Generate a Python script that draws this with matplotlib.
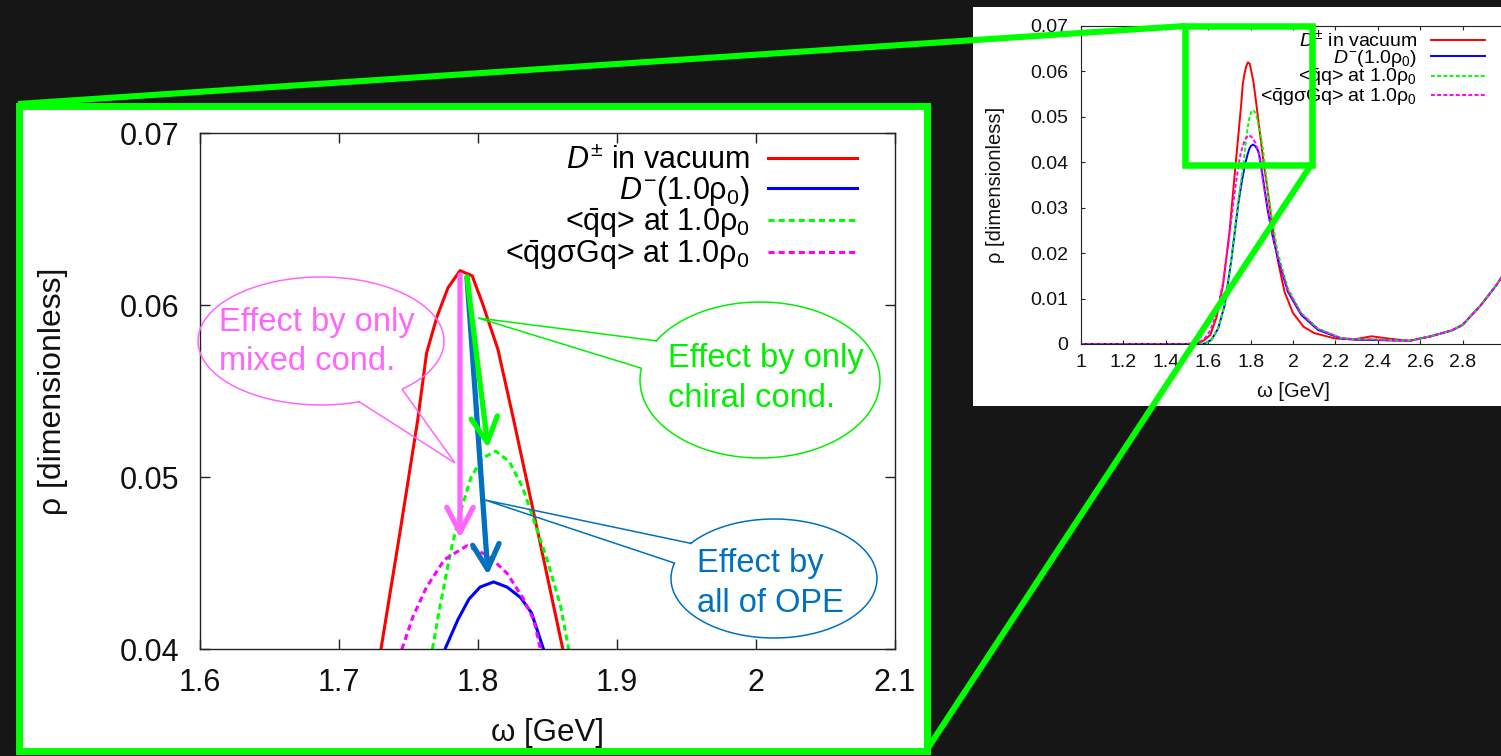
import numpy as np
import matplotlib
matplotlib.use("Agg")
import matplotlib.pyplot as plt
from matplotlib.patches import Rectangle

plt.rcParams['font.family'] = ['Liberation Sans', 'DejaVu Sans']
plt.rcParams['mathtext.fontset'] = 'custom'
plt.rcParams['mathtext.rm'] = 'Liberation Sans'
plt.rcParams['mathtext.it'] = 'Liberation Sans:italic'
plt.rcParams['mathtext.bf'] = 'Liberation Sans:bold'

# ---------------- data ----------------
omega_vac = [1.00, 1.50, 1.55, 1.58, 1.61, 1.64, 1.67, 1.70, 1.7302, 1.7437, 1.7566, 1.7630,
             1.7704, 1.7784, 1.7871, 1.7958, 1.8032, 1.8144, 1.8257, 1.8433, 1.8610, 1.88,
             1.90, 1.93, 1.96, 2.00, 2.05, 2.10, 2.20, 2.30, 2.37, 2.45, 2.55, 2.65, 2.75,
             2.80, 2.887, 2.96, 3.00]
rho_vac = [0.0, 0.0, 0.0002, 0.0008, 0.0020, 0.0060, 0.0130, 0.0245, 0.0400, 0.0467, 0.0533, 0.0572,
           0.0593, 0.0610, 0.0620, 0.0617, 0.0601, 0.0574, 0.0533, 0.0467, 0.0400, 0.0340,
           0.0268, 0.0180, 0.0115, 0.0068, 0.0038, 0.0024, 0.0012, 0.0011, 0.0017, 0.0012, 0.0007,
           0.0017, 0.0030, 0.0042, 0.0086, 0.0130, 0.0158]

omega_med = [1.00, 1.55, 1.584, 1.615, 1.647, 1.678, 1.710, 1.741, 1.760, 1.7763, 1.7855, 1.7935,
             1.8015, 1.8112, 1.8209, 1.8305, 1.8385, 1.8471, 1.860, 1.882, 1.905, 1.929, 1.976,
             2.039, 2.118, 2.228, 2.30, 2.37, 2.45, 2.55, 2.65, 2.75, 2.80, 2.887, 2.96, 3.00]
rho_med = [0.0, 0.0, 0.0001, 0.0009, 0.0034, 0.0086, 0.0188, 0.0306, 0.0362, 0.0400, 0.0417, 0.0429,
           0.0436, 0.0439, 0.0436, 0.0430, 0.0421, 0.0400, 0.0360, 0.0291, 0.0235, 0.0188, 0.0115,
           0.0064, 0.0031, 0.0012, 0.0009, 0.0009, 0.0008, 0.0007, 0.0017, 0.0030, 0.0042, 0.0086,
           0.0130, 0.0158]

omega_qq = [1.00, 1.55, 1.584, 1.615, 1.647, 1.678, 1.710, 1.741, 1.7672, 1.7727, 1.7807, 1.7871,
            1.7951, 1.8032, 1.8128, 1.8225, 1.8321, 1.8401, 1.8497, 1.8594, 1.8652, 1.882, 1.905,
            1.929, 1.976, 2.039, 2.118, 2.228, 2.30, 2.37, 2.45, 2.55, 2.65, 2.75, 2.80, 2.887,
            2.96, 3.00]
rho_qq = [0.0, 0.0, 0.0001, 0.0009, 0.0034, 0.0086, 0.0190, 0.0312, 0.0400, 0.0425, 0.0458, 0.0479,
          0.0500, 0.0511, 0.0515, 0.0509, 0.0494, 0.0475, 0.0452, 0.0425, 0.0400, 0.0335, 0.0262,
          0.0200, 0.0122, 0.0068, 0.0034, 0.0013, 0.0010, 0.0011, 0.0009, 0.0007, 0.0017, 0.0030,
          0.0042, 0.0086, 0.0130, 0.0158]

omega_mix = [1.00, 1.50, 1.55, 1.58, 1.61, 1.64, 1.67, 1.70, 1.725, 1.7453, 1.7533, 1.7630,
             1.7759, 1.7920, 1.8079, 1.8209, 1.8321, 1.8401, 1.8449, 1.860, 1.882, 1.905, 1.929,
             1.976, 2.039, 2.118, 2.228, 2.30, 2.37, 2.45, 2.55, 2.65, 2.75, 2.80, 2.887, 2.96, 3.00]
rho_mix = [0.0, 0.0, 0.0003, 0.0010, 0.0030, 0.0068, 0.0135, 0.0240, 0.0335, 0.0400, 0.0419, 0.0436,
           0.0452, 0.0460, 0.0454, 0.0444, 0.0430, 0.0417, 0.0400, 0.0355, 0.0292, 0.0238, 0.0190,
           0.0118, 0.0067, 0.0033, 0.0013, 0.0010, 0.0010, 0.0008, 0.0007, 0.0017, 0.0030, 0.0042,
           0.0086, 0.0130, 0.0158]

series_labels = [r'$D^{\pm}$ in vacuum',
                 r'$D^{-}$(1.0$\mathrm{ρ}_0$)',
                 r'<$\bar{\mathrm{q}}$q> at 1.0$\mathrm{ρ}_0$',
                 r'<$\bar{\mathrm{q}}$gσGq> at 1.0$\mathrm{ρ}_0$']

main_xticks = [1.6, 1.7, 1.8, 1.9, 2.0, 2.1]
main_xticklabels = ['1.6', '1.7', '1.8', '1.9', '2', '2.1']
main_yticks = [0.04, 0.05, 0.06, 0.07]
main_yticklabels = ['0.04', '0.05', '0.06', '0.07']
inset_xticks = [1.0, 1.2, 1.4, 1.6, 1.8, 2.0, 2.2, 2.4, 2.6, 2.8]
inset_xticklabels = ['1', '1.2', '1.4', '1.6', '1.8', '2', '2.2', '2.4', '2.6', '2.8']
inset_yticks = [0.0, 0.01, 0.02, 0.03, 0.04, 0.05, 0.06, 0.07]
inset_yticklabels = ['0', '0.01', '0.02', '0.03', '0.04', '0.05', '0.06', '0.07']

xlabel = 'ω [GeV]'
ylabel = 'ρ [dimensionless]'
note_mixed = ['Effect by only', 'mixed cond.']
note_chiral = ['Effect by only', 'chiral cond.']
note_all = ['Effect by', 'all of OPE']

# ---------------- figure ----------------
W, H = 1501, 756
fig = plt.figure(figsize=(W / 100, H / 100), dpi=100, facecolor='#161616')


def frac(x0, y0, x1, y1):
    return [x0 / W, 1 - y1 / H, (x1 - x0) / W, (y1 - y0) / H]


def pixel_axes(z):
    a = fig.add_axes([0, 0, 1, 1], zorder=z)
    a.set_xlim(0, W)
    a.set_ylim(H, 0)
    a.axis('off')
    a.patch.set_alpha(0)
    return a


bg = pixel_axes(0)
bg.add_patch(Rectangle((20, 107), 906, 643, facecolor='white', edgecolor='none'))
bg.add_patch(Rectangle((973, 7), 540, 399, facecolor='white', edgecolor='none'))

colors = ['#FF0000', '#0000FF', '#00FF00', '#FF00FF']
styles = ['-', '-', '--', '--']
series = [(omega_vac, rho_vac), (omega_med, rho_med), (omega_qq, rho_qq), (omega_mix, rho_mix)]


def draw(ax, lw, dash):
    for (x, y), c, ls, lab in zip(series, colors, styles, series_labels):
        line, = ax.plot(x, y, color=c, lw=lw, ls=ls, label=lab)
        if ls == '--':
            line.set_dashes(dash)


def style_axes(ax, lw, tlen, fsize, xpad, ypad):
    ax.set_facecolor('white')
    for s in ax.spines.values():
        s.set_linewidth(lw)
        s.set_color('#222222')
    ax.tick_params(direction='in', top=True, right=True, length=tlen, width=lw,
                   colors='#222222', labelsize=fsize, labelcolor='#111111')
    ax.tick_params(axis='x', pad=xpad)
    ax.tick_params(axis='y', pad=ypad)


# ---------------- inset (full range) ----------------
ins = fig.add_axes(frac(1081, 26, 1505, 344), zorder=2)
draw(ins, 1.4, (2.0, 1.2))
ins.set_xlim(1.0, 3.0)
ins.set_ylim(0.0, 0.07)
ins.set_xticks(inset_xticks)
ins.set_xticklabels(inset_xticklabels)
ins.set_yticks(inset_yticks)
ins.set_yticklabels(inset_yticklabels)
style_axes(ins, 0.8, 3, 14, 7, 9)
ins.set_xlabel(xlabel, fontsize=14.5, labelpad=8, color='#111111')
ins.set_ylabel(ylabel, fontsize=14.5, labelpad=18, color='#111111')
ins.legend(loc='upper right', bbox_to_anchor=(0.953, 0.99), markerfirst=False, frameon=False,
           fontsize=14, handlelength=2.8, handletextpad=0.7, labelspacing=-0.12,
           borderpad=0, borderaxespad=0)

# ---------------- main (zoomed) ----------------
ax = fig.add_axes(frac(200, 133, 895, 649), zorder=2)
draw(ax, 2.2, (2.0, 1.3))
ax.set_xlim(1.6, 2.1)
ax.set_ylim(0.04, 0.07)
ax.set_xticks(main_xticks)
ax.set_xticklabels(main_xticklabels)
ax.set_yticks(main_yticks)
ax.set_yticklabels(main_yticklabels)
style_axes(ax, 1.0, 7, 22, 14, 15)
ax.set_xlabel(xlabel, fontsize=22.5, labelpad=14, color='#111111')
ax.set_ylabel(ylabel, fontsize=23, labelpad=37, color='#111111')
ax.legend(loc='upper right', bbox_to_anchor=(0.945, 0.975), markerfirst=False, frameon=False,
          fontsize=22, handlelength=2.9, handletextpad=0.6, labelspacing=-0.06,
          borderpad=0, borderaxespad=0)

# ---------------- overlay: zoom frames, callouts, arrows ----------------
ov = pixel_axes(5)
green = '#00FF00'
ov.add_patch(Rectangle((18.5, 105.5), 908, 645, fill=False, edgecolor=green, lw=5.0,
                       joinstyle='miter'))
ov.add_patch(Rectangle((1185, 26), 126.5, 139, fill=False, edgecolor=green, lw=4.7,
                       joinstyle='miter'))
ov.plot([18, 1185], [104, 26], color=green, lw=4.4, solid_capstyle='butt')
ov.plot([926, 1311], [751, 165], color=green, lw=4.4, solid_capstyle='butt')


def callout(cx, cy, a, b, base1, base2, tip, color, lw=1.1):
    a1 = np.degrees(np.arctan2((base1[1] - cy) / b, (base1[0] - cx) / a))
    a2 = np.degrees(np.arctan2((base2[1] - cy) / b, (base2[0] - cx) / a))
    d = (a2 - a1) % 360
    if d > 180:
        t = np.radians(np.linspace(a1, a1 + d, 300))
    else:
        t = np.radians(np.linspace(a1, a1 - (360 - d), 300))
    xs = list(cx + a * np.cos(t)) + [tip[0], cx + a * np.cos(t[0])]
    ys = list(cy + b * np.sin(t)) + [tip[1], cy + b * np.sin(t[0])]
    ov.plot(xs, ys, color=color, lw=lw, solid_joinstyle='miter')


pink = '#FF66FF'
cgreen = '#00F000'
cblue = '#0070C0'
callout(321, 341, 123, 64, (360, 403), (400, 388), (455, 463), pink)
callout(760, 380, 120, 78, (654, 340), (639, 368), (478, 318), cgreen)
callout(774, 578.5, 103, 59.5, (690, 543), (674, 563), (485, 500), cblue)

for lines, x0, ys, c in [(note_mixed, 219, (331, 370), pink),
                         (note_chiral, 668, (367, 407), cgreen),
                         (note_all, 697, (572, 612), cblue)]:
    for txt, y in zip(lines, ys):
        ov.text(x0, y, txt, color=c, fontsize=23.5, ha='left', va='baseline')


def arrow(start, end, color):
    ov.annotate('', xy=end, xytext=start, xycoords='data',
                arrowprops=dict(arrowstyle='->,head_length=1.8,head_width=0.95',
                                lw=3.8, color=color, shrinkA=0, shrinkB=0,
                                mutation_scale=10))


arrow((467, 277), (488, 575), cblue)
arrow((467, 277), (488, 448), '#00FF00')
arrow((460, 275), (460, 538), pink)

fig.savefig('out.png', dpi=100, facecolor=fig.get_facecolor())
